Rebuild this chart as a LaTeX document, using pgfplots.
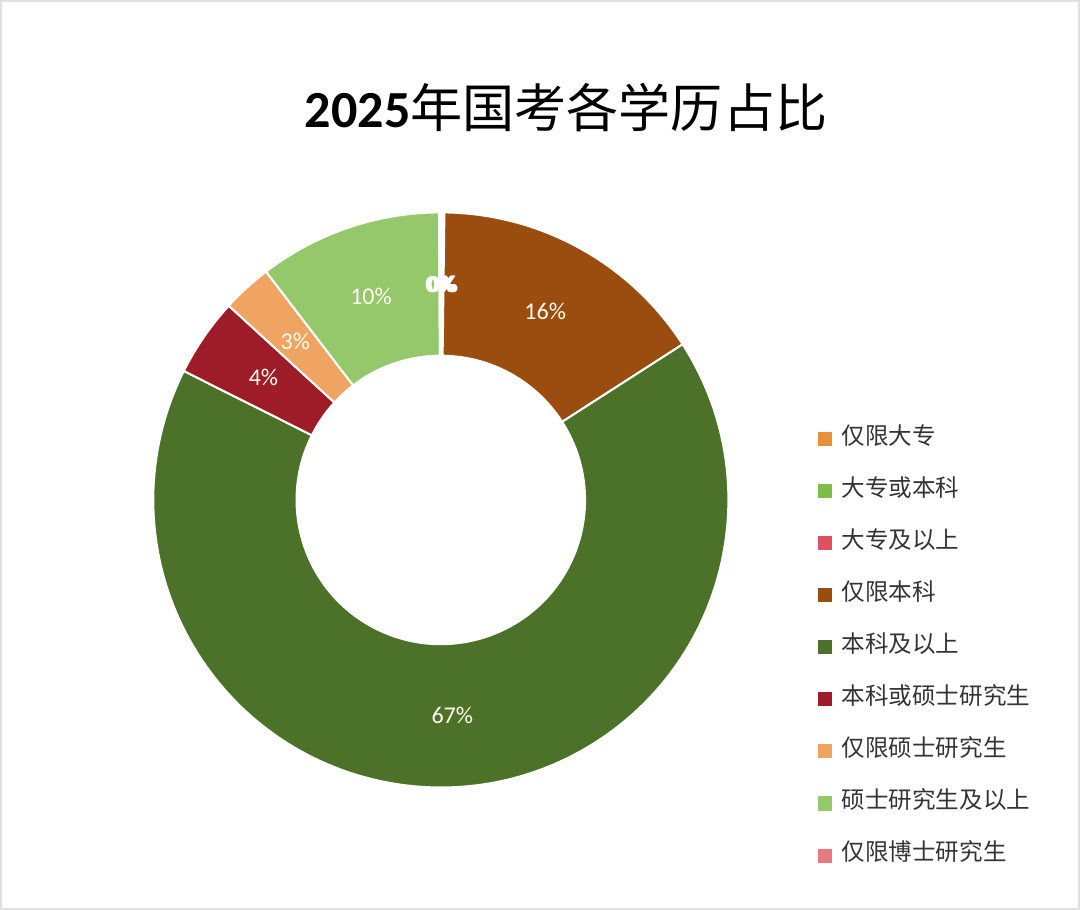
\documentclass[border=0pt]{standalone}
\usepackage{pgfplots}
\pgfplotsset{compat=1.18}
\usepackage{pgfplotstable}
\usepackage{fontspec}
\setmainfont{Carlito}
\newfontfamily\cjk{Noto Sans CJK SC}

\definecolor{c0}{HTML}{E8913A}
\definecolor{c1}{HTML}{7DBE48}
\definecolor{c2}{HTML}{E0505F}
\definecolor{c3}{HTML}{9B4C0F}
\definecolor{c4}{HTML}{4B7228}
\definecolor{c5}{HTML}{9E1B28}
\definecolor{c6}{HTML}{F0A462}
\definecolor{c7}{HTML}{95C86A}
\definecolor{c8}{HTML}{E57A80}

% shares in percent, clockwise from 12 o'clock
\pgfplotstableread{
value
0.1
0.05
0.05
15.7
66.5
4.4
2.8
10.3
0.1
}\pietable

\begin{document}
\begin{tikzpicture}
\begin{axis}[
  hide axis, x=1pt, y=1pt,
  xmin=0, xmax=1080, ymin=0, ymax=910,
  clip=false,
  legend style={at={(axis cs:817,483)}, anchor=north west, draw=none, fill=none,
    inner sep=0pt, row sep=29pt,
    font=\cjk\fontsize{23.5}{24}\selectfont, text=black!80,
    nodes={inner sep=0pt, text height=17pt, text depth=6pt},
    /tikz/every odd column/.append style={column sep=11pt}},
  legend cell align=left,
]
\draw[black!12, line width=2pt] (axis cs:2,2) rectangle (axis cs:1078,908);

\gdef\cum{0}
\pgfplotsforeachungrouped \i in {0,...,8}{%
  \pgfplotstablegetelem{\i}{value}\of\pietable
  \let\v\pgfplotsretval
  \pgfmathsetmacro\a{90-\cum*3.6}%
  \pgfmathsetmacro\newcum{\cum+\v}%
  \xdef\cum{\newcum}%
  \pgfmathsetmacro\b{90-\cum*3.6}%
  \pgfmathsetmacro\xo{441+287*cos(\a)}%
  \pgfmathsetmacro\yo{410+287*sin(\a)}%
  \pgfmathsetmacro\xi{441+144*cos(\b)}%
  \pgfmathsetmacro\yi{410+144*sin(\b)}%
  \edef\temp{\noexpand\filldraw[fill=c\i, draw=white, line width=2pt, line join=round]
    (axis cs:\xo,\yo) arc[start angle=\a, end angle=\b, radius=287pt]
    -- (axis cs:\xi,\yi) arc[start angle=\b, end angle=\a, radius=144pt] -- cycle;}%
  \temp
}

\gdef\cum{0}
\pgfplotsforeachungrouped \i in {0,...,8}{%
  \pgfplotstablegetelem{\i}{value}\of\pietable
  \let\v\pgfplotsretval
  \pgfmathsetmacro\a{90-\cum*3.6}%
  \pgfmathsetmacro\newcum{\cum+\v}%
  \xdef\cum{\newcum}%
  \pgfmathsetmacro\b{90-\cum*3.6}%
  \pgfmathsetmacro\m{(\a+\b)/2}%
  \pgfmathsetmacro\xl{441+215*cos(\m)}%
  \pgfmathsetmacro\yl{410+215*sin(\m)}%
  \pgfmathtruncatemacro\rr{round(\v)}%
  \ifdim\v pt<0.5pt
    \edef\temp{\noexpand\node[text=white, font=\noexpand\fontsize{24}{26}\noexpand\selectfont\noexpand\bfseries] at (axis cs:\xl,\yl) {\rr\noexpand\%};}%
  \else
    \edef\temp{\noexpand\node[text=white!94!yellow, font=\noexpand\fontsize{24}{26}\noexpand\selectfont] at (axis cs:\xl,\yl) {\rr\noexpand\%};}%
  \fi
  \temp
}

\node[font=\fontsize{52}{55}\selectfont] at (axis cs:566,802) {\textbf{2025}{\cjk 年国考各学历占比}};

\addlegendimage{only marks, mark=square*, mark size=6.5pt, color=c0}
\addlegendentry{仅限大专}
\addlegendimage{only marks, mark=square*, mark size=6.5pt, color=c1}
\addlegendentry{大专或本科}
\addlegendimage{only marks, mark=square*, mark size=6.5pt, color=c2}
\addlegendentry{大专及以上}
\addlegendimage{only marks, mark=square*, mark size=6.5pt, color=c3}
\addlegendentry{仅限本科}
\addlegendimage{only marks, mark=square*, mark size=6.5pt, color=c4}
\addlegendentry{本科及以上}
\addlegendimage{only marks, mark=square*, mark size=6.5pt, color=c5}
\addlegendentry{本科或硕士研究生}
\addlegendimage{only marks, mark=square*, mark size=6.5pt, color=c6}
\addlegendentry{仅限硕士研究生}
\addlegendimage{only marks, mark=square*, mark size=6.5pt, color=c7}
\addlegendentry{硕士研究生及以上}
\addlegendimage{only marks, mark=square*, mark size=6.5pt, color=c8}
\addlegendentry{仅限博士研究生}
\end{axis}
\end{tikzpicture}
\end{document}
